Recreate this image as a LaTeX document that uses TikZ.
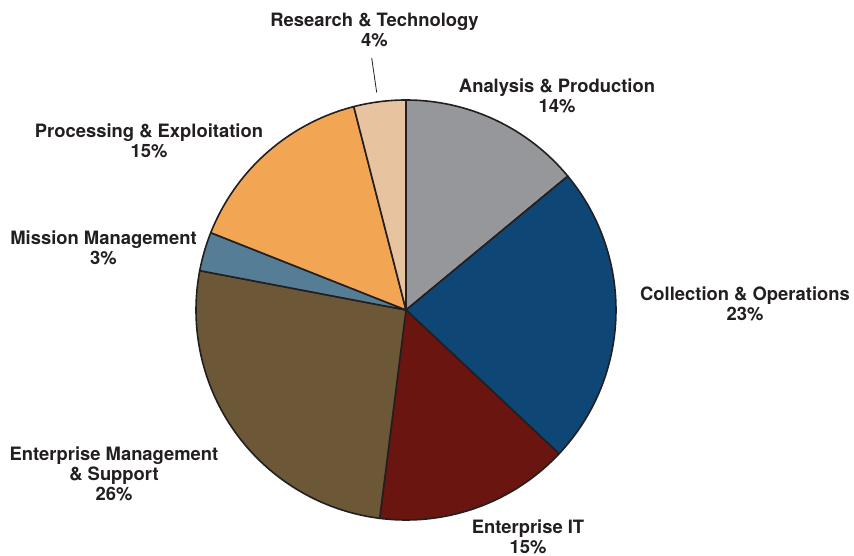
\documentclass[tikz,border=0pt]{standalone}
\usepackage{fontspec}
\setmainfont{TeX Gyre Heros}
\definecolor{cgray}{HTML}{96979A}
\definecolor{cblue}{HTML}{0E4676}
\definecolor{cred}{HTML}{6A1510}
\definecolor{cbrown}{HTML}{6C5737}
\definecolor{cslate}{HTML}{557D95}
\definecolor{corange}{HTML}{F2A654}
\definecolor{ctan}{HTML}{E7C49F}
\definecolor{ctext}{HTML}{231F20}
\begin{document}
\begin{tikzpicture}[x=1pt,y=1pt,
  lbl/.style={align=center,font=\bfseries\fontsize{18.4}{20}\selectfont,text=ctext,inner sep=0pt},
  slice/.style={draw=ctext,line width=1.6pt,line join=round}]
\useasboundingbox (0,0) rectangle (854,556);
\coordinate (c) at (406,246);
\def\R{210}
\foreach \a/\b/\col in {90/39.6/cgray, 39.6/-43.2/cblue, -43.2/-97.2/cred, -97.2/-190.8/cbrown, -190.8/-201.6/cslate, -201.6/-255.6/corange, -255.6/-270/ctan}{
  \filldraw[slice,fill=\col] (c) -- ++(\a:\R) arc[start angle=\a, end angle=\b, radius=\R] -- cycle;
}
\node[lbl] (rt) at (374.5,526.5) {Research \& Technology\\4\%};
\node[lbl] (ap) at (557,460) {Analysis \& Production\\14\%};
\node[lbl] (pe) at (149,415.5) {Processing \& Exploitation\\15\%};
\node[lbl] (mm) at (103.5,308) {Mission Management\\3\%};
\node[lbl] (co) at (745,252) {Collection \& Operations\\23\%};
\node[lbl] (em) at (114,82) {Enterprise Management\\\& Support\\26\%};
\node[lbl] (eit) at (528,19.5) {Enterprise IT\\15\%};
\coordinate (rtend) at (376.7,463.5);
\coordinate (rtstart) at (371.7,498);
\draw[ctext,line width=0.8pt] (rtstart) -- (rtend);
\end{tikzpicture}
\end{document}
